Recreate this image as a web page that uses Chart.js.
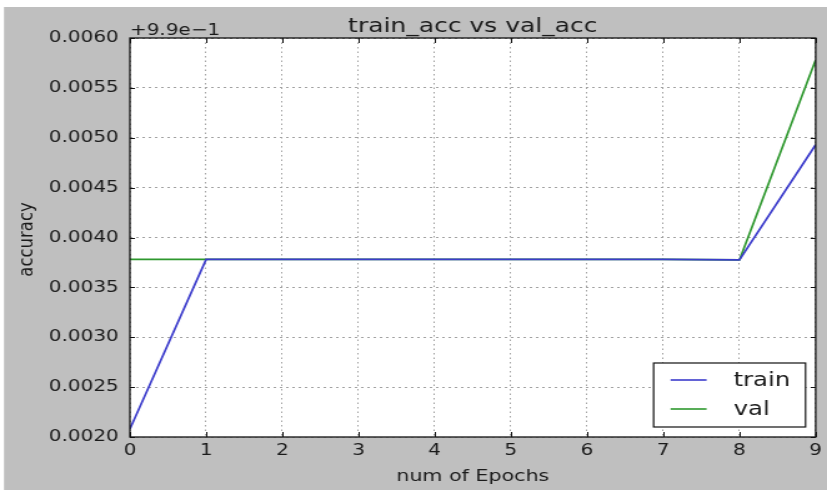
<!DOCTYPE html>
<html>
<head>
<meta charset="utf-8">
<script src="https://cdn.jsdelivr.net/npm/chart.js@4/dist/chart.umd.min.js"></script>
<style>
  html, body { margin: 0; padding: 0; background: #ffffff; overflow: hidden; }
  #c { display: block; width: 827px; height: 490px; }
</style>
</head>
<body>
<canvas id="c" width="662" height="490" style="width:827px;height:490px"></canvas>
<script>
// Epoch numbers on the x axis
const epochs = [0, 1, 2, 3, 4, 5, 6, 7, 8, 9];
// Accuracy per epoch, expressed relative to the 0.99 offset printed above the axis
const trainAcc = [0.00208, 0.00378, 0.00378, 0.00378, 0.00378, 0.00378, 0.00378, 0.00378, 0.003775, 0.00493];
const valAcc   = [0.00378, 0.00378, 0.00378, 0.00378, 0.00378, 0.00378, 0.00378, 0.00378, 0.003775, 0.00578];
// Axis range and tick spacing
const yRange = [0.0020, 0.0060];
const yStep = 0.0005;
const xRange = [0, 9];

const seriesNames = ['train', 'val'];
const seriesColors = ['#3c3ccc', '#2e982e'];
const titleText = 'train_acc vs val_acc';
const offsetText = '+9.9e\u22121';
const xLabel = 'num of Epochs';
const yLabel = 'accuracy';

const FONT = "'DejaVu Sans', 'Liberation Sans', sans-serif";
const TEXT = '#1a1a1a';

// Figure background, plot frame, inward ticks, title, axis labels and legend
const figurePlugin = {
  id: 'figure',
  beforeDraw(chart) {
    const ctx = chart.ctx, a = chart.chartArea;
    ctx.save();
    ctx.fillStyle = '#ffffff';
    ctx.fillRect(0, 0, chart.width, chart.height);
    ctx.fillStyle = '#bfbfbf';
    ctx.fillRect(3.2, 7, chart.width - 3.2, chart.height - 7);
    ctx.fillStyle = '#ffffff';
    ctx.fillRect(a.left, a.top, a.right - a.left, a.bottom - a.top);
    ctx.restore();
  },
  afterDraw(chart) {
    const ctx = chart.ctx, a = chart.chartArea;
    const xs = chart.scales.x, ys = chart.scales.y;
    ctx.save();

    // inward tick marks on all four sides
    ctx.strokeStyle = '#111111';
    ctx.lineWidth = 1;
    ctx.beginPath();
    xs.ticks.forEach(t => {
      const px = Math.round(xs.getPixelForValue(t.value)) + 0.5;
      ctx.moveTo(px, a.bottom); ctx.lineTo(px, a.bottom - 5);
      ctx.moveTo(px, a.top); ctx.lineTo(px, a.top + 5);
    });
    ys.ticks.forEach(t => {
      const py = Math.round(ys.getPixelForValue(t.value)) + 0.5;
      ctx.moveTo(a.left, py); ctx.lineTo(a.left + 4, py);
      ctx.moveTo(a.right, py); ctx.lineTo(a.right - 4, py);
    });
    ctx.stroke();

    // plot frame
    ctx.lineWidth = 1.3;
    ctx.strokeRect(a.left, a.top, a.right - a.left, a.bottom - a.top);

    ctx.fillStyle = TEXT;
    // title
    ctx.font = `20px ${FONT}`;
    ctx.textAlign = 'center';
    ctx.textBaseline = 'alphabetic';
    ctx.fillText(titleText, (a.left + a.right) / 2, 32);
    // offset text
    ctx.font = `16px ${FONT}`;
    ctx.textAlign = 'left';
    ctx.fillText(offsetText, a.left, 34.5);
    // x axis label
    ctx.font = `16.5px ${FONT}`;
    ctx.textAlign = 'center';
    ctx.fillText(xLabel, (a.left + a.right) / 2, 481);
    // y axis label
    ctx.save();
    ctx.translate(25.6, (a.top + a.bottom) / 2 + 2);
    ctx.rotate(-Math.PI / 2);
    ctx.fillText(yLabel, 0, 0);
    ctx.restore();

    // legend box
    const bx0 = 523.2, bx1 = 644.8, by0 = 363, by1 = 427;
    ctx.fillStyle = '#ffffff';
    ctx.fillRect(bx0, by0, bx1 - bx0, by1 - by0);
    ctx.strokeStyle = '#111111';
    ctx.lineWidth = 1.2;
    ctx.strokeRect(bx0, by0, bx1 - bx0, by1 - by0);
    const rows = [380, 409];
    chart.data.datasets.forEach((ds, i) => {
      const y = rows[i];
      ctx.strokeStyle = ds.borderColor;
      ctx.lineWidth = 1.6;
      ctx.beginPath();
      ctx.moveTo(536.8, y); ctx.lineTo(565.6, y);
      ctx.stroke();
      ctx.fillStyle = TEXT;
      ctx.font = `19.5px ${FONT}`;
      ctx.textAlign = 'left';
      ctx.textBaseline = 'middle';
      ctx.fillText(ds.label, 587.2, y + 1);
    });
    ctx.restore();
  }
};

const toPoints = vals => epochs.map((e, i) => ({ x: e, y: vals[i] }));

const chart = new Chart(document.getElementById('c'), {
  type: 'line',
  data: {
    datasets: [
      { label: seriesNames[0], data: toPoints(trainAcc), borderColor: seriesColors[0], borderWidth: 1.7, pointRadius: 0, tension: 0, fill: false },
      { label: seriesNames[1], data: toPoints(valAcc), borderColor: seriesColors[1], borderWidth: 1.7, pointRadius: 0, tension: 0, fill: false }
    ]
  },
  options: {
    responsive: false,
    animation: false,
    devicePixelRatio: 1,
    events: [],
    layout: { padding: { left: 0, top: 38, right: 7.6, bottom: 0 } },
    plugins: { legend: { display: false }, title: { display: false }, tooltip: { enabled: false } },
    scales: {
      x: {
        type: 'linear',
        min: xRange[0], max: xRange[1],
        afterFit(scale) { scale.height = 53; },
        ticks: { stepSize: 1, color: TEXT, font: { family: FONT, size: 16 }, padding: 4, maxRotation: 0,
                 callback: v => String(v) },
        grid: { color: '#a2a2a2', lineWidth: 1, drawTicks: false },
        border: { display: false, dash: [1.5, 3] }
      },
      y: {
        type: 'linear',
        min: yRange[0], max: yRange[1],
        afterFit(scale) { scale.width = 104; },
        ticks: { stepSize: yStep, color: TEXT, font: { family: FONT, size: 16 }, padding: 9,
                 callback: v => v.toFixed(4) },
        grid: { color: '#a2a2a2', lineWidth: 1, drawTicks: false },
        border: { display: false, dash: [2, 3] }
      }
    }
  },
  plugins: [figurePlugin]
});
chart.canvas.style.width = '827px';
chart.canvas.style.height = '490px';
</script>
</body>
</html>
